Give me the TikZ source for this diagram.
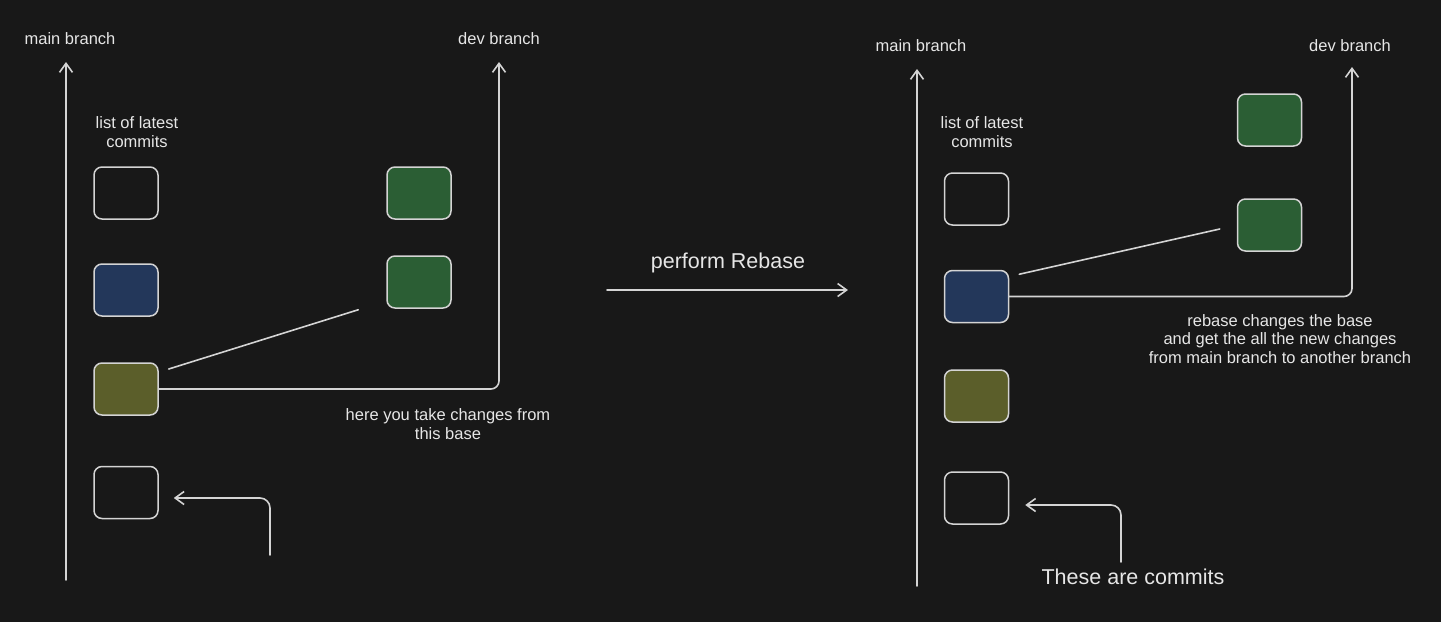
\documentclass[tikz,border=0pt]{standalone}
\usepackage{fontspec}
\setmainfont{Liberation Sans}
\usetikzlibrary{arrows.meta}

\definecolor{bgdark}{RGB}{24,24,24}
\definecolor{inkgray}{RGB}{212,212,212}
\definecolor{txtgray}{RGB}{230,230,230}
\definecolor{commitblue}{RGB}{35,55,90}
\definecolor{commitgreen}{RGB}{43,94,52}
\definecolor{commitolive}{RGB}{91,94,42}

\tikzset{
  commit/.style={draw=inkgray, line width=1.5pt, rounded corners=8pt,
    minimum width=64pt, minimum height=52pt, inner sep=0pt},
  lbl/.style={text=txtgray, font=\fontsize{16.5}{18.5}\selectfont, align=center, inner sep=0pt},
  biglbl/.style={text=txtgray, font=\fontsize{21.5}{24}\selectfont, inner sep=0pt},
  wire/.style={draw=inkgray, line width=1.6pt, line cap=round},
  barb/.style={-{Straight Barb[length=9pt,width=13pt,line width=1.6pt]}},
}

\begin{document}
\begin{tikzpicture}[x=1pt,y=-1pt]
  \fill[bgdark] (0,0) rectangle (1441,622);

  % before rebase
  \node[lbl] (lmainlbl) at (70,39) {main branch};
  \node[lbl] (ldevlbl) at (499,39) {dev branch};
  \node[lbl] (llist) at (137,132) {list of latest\\commits};
  \coordinate (lmainfoot) at (66,580);
  \coordinate (lmainhead) at (66,62);
  \coordinate (ldevhead) at (499,62);
  \coordinate (lpoint) at (270,555);
  \draw[wire,barb] (lmainfoot) -- (lmainhead);
  \foreach \n/\y/\c in {1/193/bgdark,2/290/commitblue,3/389/commitolive,4/492.5/bgdark}
  {
    \node[commit, fill=\c] (lc\n) at (126,\y) {};
  }
  \node[commit, fill=commitgreen] (lg1) at (419,193) {};
  \node[commit, fill=commitgreen] (lg2) at (419,282) {};
  \draw[wire,barb,rounded corners=8pt] (lc3.east) -| (ldevhead);
  \draw[wire] ([xshift=10pt,yshift=20pt]lc3.east) -- ([xshift=-28pt,yshift=-1pt]lg2.south west);
  \node[lbl] (lhere) at (448,424) {here you take changes from\\this base};
  \draw[wire,barb,rounded corners=10pt] (lpoint) |- ([xshift=15pt,yshift=-5.5pt]lc4.east);

  % the rebase step
  \node[biglbl] (perf) at (728,263) {perform Rebase};
  \coordinate (stepfrom) at (607,290);
  \coordinate (stepto) at (848,290);
  \draw[wire,barb] (stepfrom) -- (stepto);

  % after rebase
  \node[lbl] (rmainlbl) at (921,46) {main branch};
  \node[lbl] (rdevlbl) at (1350,46) {dev branch};
  \node[lbl] (rlist) at (982,132) {list of latest\\commits};
  \coordinate (rmainfoot) at (917,586);
  \coordinate (rmainhead) at (917,69);
  \coordinate (rdevhead) at (1352,67);
  \coordinate (rpoint) at (1121,562);
  \draw[wire,barb] (rmainfoot) -- (rmainhead);
  \foreach \n/\y/\c in {1/199/bgdark,2/296.5/commitblue,3/396/commitolive,4/498/bgdark}
  {
    \node[commit, fill=\c] (rc\n) at (976.5,\y) {};
  }
  \node[commit, fill=commitgreen] (rg1) at (1269.5,120) {};
  \node[commit, fill=commitgreen] (rg2) at (1269.5,225) {};
  \draw[wire,barb,rounded corners=8pt] (rc2.east) -| (rdevhead);
  \draw[wire] ([xshift=10pt,yshift=-4.5pt]rc2.north east) -- ([xshift=-17pt,yshift=-4pt]rg2.west);
  \node[lbl] (rnotes) at (1280,339) {rebase changes the base\\and get the all the new changes\\from main branch to another branch};
  \node[biglbl] (rnote) at (1133,577) {These are commits};
  \draw[wire,barb,rounded corners=10pt] (rpoint) |- ([xshift=16pt,yshift=-7pt]rc4.east);
\end{tikzpicture}
\end{document}
